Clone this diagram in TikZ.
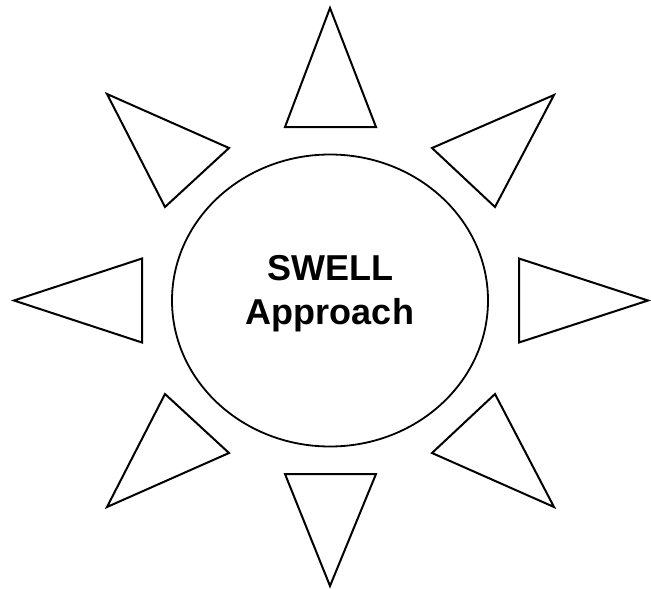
\documentclass[tikz,border=0pt]{standalone}
\usepackage{fontspec}
\setmainfont{Liberation Sans}
\usetikzlibrary{shapes.geometric}

\tikzset{
  ray/.style={draw=black, line width=2pt, line join=miter},
  sunbody/.style={ellipse, draw=black, line width=1.8pt, minimum width=316pt, minimum height=292pt, inner sep=0pt},
  sunlabel/.style={font=\fontsize{36}{44}\selectfont\bfseries, anchor=base, inner sep=0pt},
}

\begin{document}
\begin{tikzpicture}[x=1pt, y=-1pt]
    \useasboundingbox (0,0) rectangle (651,589);

    % the sun itself
    \node[sunbody] (core) at (330,300.5) {};
    \node[sunlabel] (swell) at (330,280) {SWELL};
    \node[sunlabel] (approach) at (330,324) {Approach};

    % rays, clockwise from the top
    \draw[ray] (330,8) -- (376,127) -- (285,127) -- cycle;
    \draw[ray] (554,95) -- (495,207) -- (432,148) -- cycle;
    \draw[ray] (648,300.5) -- (519,342.5) -- (519,258.5) -- cycle;
    \draw[ray] (554,507) -- (432,453) -- (495,394) -- cycle;
    \draw[ray] (330,586) -- (285,474) -- (376,474) -- cycle;
    \draw[ray] (107,507) -- (165,394) -- (229,453) -- cycle;
    \draw[ray] (14,300.5) -- (142,258.5) -- (142,342.5) -- cycle;
    \draw[ray] (107,94) -- (229,148) -- (165,207) -- cycle;
\end{tikzpicture}
\end{document}
